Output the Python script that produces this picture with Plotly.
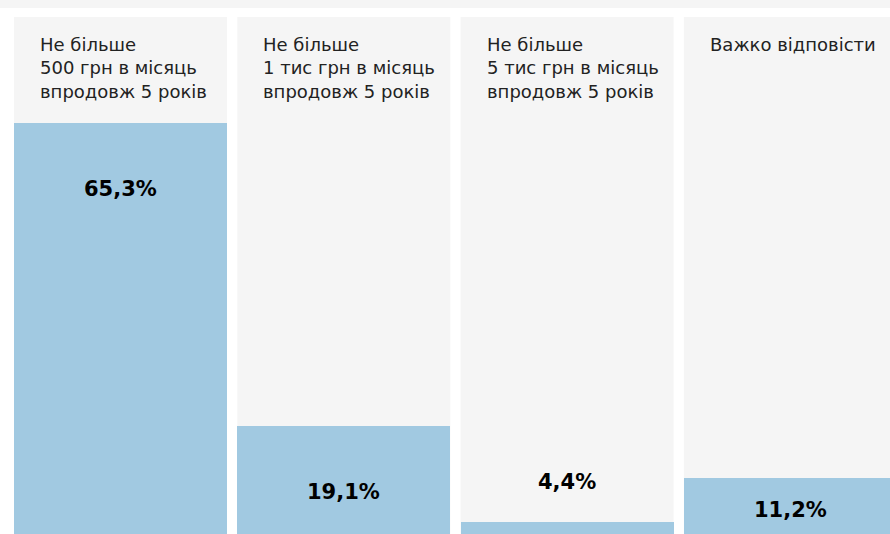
import plotly.graph_objects as go

# categories and values
categories = [
    "Не більше<br>500 грн в місяць<br>впродовж 5 років",
    "Не більше<br>1 тис грн в місяць<br>впродовж 5 років",
    "Не більше<br>5 тис грн в місяць<br>впродовж 5 років",
    "Важко відповісти",
]
values = [65.3, 19.1, 4.4, 11.2]
value_labels = ["65,3%", "19,1%", "4,4%", "11,2%"]

W, H = 890, 534
m_l, m_t = 14, 17
plot_w, plot_h = W - m_l, H - m_t
step_px = 223.3          # column pitch
col_px = 213             # column width
bar_w = col_px / step_px
y_range = [2.6, 81.4]
px_per_unit = plot_h / (y_range[1] - y_range[0])

BLUE = "#a1c9e1"
GREY = "#f5f5f5"
FONT = "DejaVu Sans"

x = list(range(len(categories)))
x_range = [-bar_w / 2, -bar_w / 2 + plot_w / step_px]

fig = go.Figure()
fig.add_trace(go.Bar(
    x=x, y=values, width=bar_w, marker=dict(color=BLUE, line=dict(width=0)),
    hoverinfo="skip", showlegend=False,
))

shapes = []
for i in x:
    shapes.append(dict(type="rect", xref="x", yref="paper", x0=i - bar_w / 2, x1=i + bar_w / 2,
                       y0=0, y1=1, fillcolor=GREY, line=dict(width=0), layer="below"))
# grey strip at the very top of the page
shapes.append(dict(type="rect", xref="paper", yref="paper", x0=-m_l / plot_w, x1=1,
                   y0=1 + 9 / plot_h, y1=1 + m_t / plot_h, fillcolor=GREY, line=dict(width=0)))

annotations = []
for i, cat in enumerate(categories):
    annotations.append(dict(
        x=i - bar_w / 2, y=1, xref="x", yref="paper", xanchor="left", yanchor="top",
        xshift=24, yshift=-15, text=cat, showarrow=False, align="left",
        font=dict(family=FONT, size=18, color="#222222"),
    ))

for i, (v, lab) in enumerate(zip(values, value_labels)):
    visible = (v - y_range[0]) * px_per_unit
    if visible > 40:
        # label inside the bar, near its top
        shift = -min(66, max(visible - 42, visible / 2 + 4))
        anchor = "middle"
    else:
        # bar too short, label sits above it
        shift = 26
        anchor = "bottom"
    annotations.append(dict(
        x=i, y=v, xref="x", yref="y", xanchor="center", yanchor=anchor, yshift=shift,
        text=f"<b>{lab}</b>", showarrow=False,
        font=dict(family=FONT, size=21, color="#000000"),
    ))

fig.update_layout(
    width=W, height=H,
    margin=dict(l=m_l, r=0, t=m_t, b=0),
    paper_bgcolor="white", plot_bgcolor="white",
    xaxis=dict(range=x_range, visible=False, fixedrange=True),
    yaxis=dict(range=y_range, visible=False, fixedrange=True),
    shapes=shapes, annotations=annotations,
    bargap=0,
)

fig.write_html("out.html", config={"displayModeBar": False},
               post_script="document.body.style.margin='0';")
